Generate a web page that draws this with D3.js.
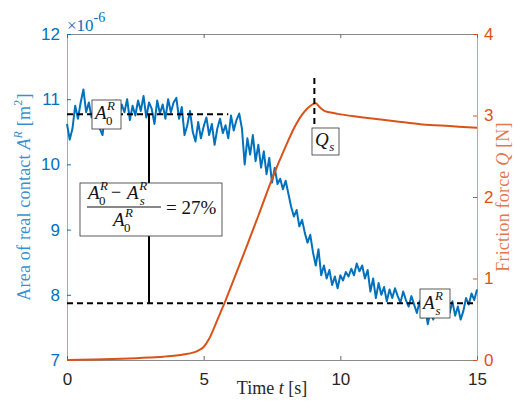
<!DOCTYPE html>
<html>
<head>
<meta charset="utf-8">
<script src="https://cdn.jsdelivr.net/npm/d3@7"></script>
<style>
  body { margin: 0; background: #fff; }
  text { font-family: "Liberation Serif", serif; }
  .tick text { font-family: "Liberation Sans", Arial, sans-serif; font-size: 17px; }
</style>
</head>
<body>
<svg id="chart" width="514" height="403"></svg>
<script>
// real contact area A^R (x1e-6 m^2), one sample every 0.1 s starting at t = 0
const areaStep = 0.1;
const areaValues = [
  10.62, 10.38, 10.55, 10.90, 10.70, 10.95, 11.15, 10.80, 10.95, 10.72, 10.88,
  10.78, 10.55, 10.45, 10.82, 10.95, 10.60, 10.85, 10.98, 10.70, 10.92,
  10.80, 11.00, 10.68, 10.90, 10.75, 10.98, 10.82, 11.05, 10.72, 10.95,
  10.85, 10.62, 10.98, 10.78, 10.92, 10.70, 11.00, 10.80, 10.95, 11.02,
  10.70, 10.88, 10.45, 10.60, 10.82, 10.50, 10.35, 10.65, 10.40, 10.58,
  10.72, 10.45, 10.62, 10.30, 10.55, 10.70, 10.48, 10.60, 10.40, 10.75,
  10.52, 10.68, 10.78, 10.55, 10.00, 10.40, 10.15, 10.45, 10.05, 10.30,
  9.95, 10.20, 9.85, 10.10, 9.72, 9.95, 9.70, 9.78, 9.62, 9.75,
  9.55, 9.35, 9.20, 9.30, 9.05, 9.15, 8.95, 8.80, 8.92, 8.65,
  8.45, 8.70, 8.30, 8.45, 8.25, 8.38, 8.15, 8.28, 8.10, 8.30,
  8.22, 8.35, 8.28, 8.40, 8.30, 8.48, 8.36, 8.45, 8.25, 8.38,
  8.05, 8.25, 7.95, 8.18, 8.00, 8.12, 7.90, 8.08, 7.95, 8.10,
  7.98, 7.88, 8.05, 7.92, 7.82, 7.98, 7.85, 7.72, 7.90, 7.65,
  7.80, 7.55, 7.75, 7.62, 7.85, 7.70, 7.95, 7.78, 7.88, 7.72,
  7.90, 7.68, 7.82, 7.62, 7.75, 7.95, 7.85, 8.02, 7.92, 8.08
];

// friction force Q (N)
const forceTimes  = [0, 1, 2, 3, 3.5, 4, 4.3, 4.6, 4.8, 5.0, 5.2, 5.4, 5.6, 5.8, 6.0, 6.5, 7.0, 7.5, 8.0, 8.3, 8.6, 8.8, 9.0, 9.1, 9.25, 9.4, 9.6, 9.9, 10.5, 11, 12, 13, 14, 15];
const forceValues = [0, 0.005, 0.015, 0.03, 0.04, 0.055, 0.07, 0.09, 0.115, 0.16, 0.26, 0.41, 0.57, 0.73, 0.90, 1.33, 1.77, 2.22, 2.62, 2.84, 3.01, 3.09, 3.14, 3.15, 3.10, 3.06, 3.04, 3.02, 2.99, 2.97, 2.93, 2.89, 2.87, 2.85];

const timeTicks = [0, 5, 10, 15];
const areaTicks = [7, 8, 9, 10, 11, 12];
const forceTicks = [0, 1, 2, 3, 4];

// annotation values
const areaStart = 10.77, areaSteady = 7.87;
const startLineEnd = 5.9;      // where the A0 dashed line stops (s)
const ratioTime = 3.0;         // vertical bar between the two levels (s)
const peakTime = 9.05;
const peakMark = [3.46, 2.86]; // Q range of the dashed mark above Qs

const blue = "#0072BD", orange = "#D95319", dark = "#262626";

const svg = d3.select("#chart");
const xScale = d3.scaleLinear().domain([0, 15]).range([67, 477]);
const yArea = d3.scaleLinear().domain([7, 12]).range([360, 34]);
const yForce = d3.scaleLinear().domain([0, 4]).range([360, 34]);
const fmt = d3.format("d");

// axes, ticks point inwards like matlab
svg.append("g")
  .attr("transform", "translate(0,360)")
  .call(d3.axisBottom(xScale).tickValues(timeTicks).tickFormat(fmt).tickSize(-4).tickSizeOuter(0).tickPadding(13))
  .call(g => g.select(".domain").attr("stroke", "#8a8a8a"))
  .call(g => g.selectAll(".tick line").attr("stroke", "#666"))
  .call(g => g.selectAll(".tick text").attr("fill", dark));

svg.append("g")
  .attr("transform", "translate(0,34)")
  .call(d3.axisTop(xScale).tickValues(timeTicks).tickSize(-4).tickSizeOuter(0).tickFormat(""))
  .call(g => g.select(".domain").attr("stroke", "#8a8a8a"))
  .call(g => g.selectAll(".tick line").attr("stroke", "#666"));

svg.append("g")
  .attr("transform", "translate(67,0)")
  .call(d3.axisLeft(yArea).tickValues(areaTicks).tickFormat(fmt).tickSize(-4).tickSizeOuter(0).tickPadding(7))
  .call(g => g.select(".domain").attr("stroke", blue).attr("stroke-opacity", 0.5))
  .call(g => g.selectAll(".tick line").attr("stroke", blue))
  .call(g => g.selectAll(".tick text").attr("fill", blue));

svg.append("g")
  .attr("transform", "translate(477,0)")
  .call(d3.axisRight(yForce).tickValues(forceTicks).tickFormat(fmt).tickSize(-4).tickSizeOuter(0).tickPadding(7))
  .call(g => g.select(".domain").attr("stroke", orange).attr("stroke-opacity", 0.6))
  .call(g => g.selectAll(".tick line").attr("stroke", orange))
  .call(g => g.selectAll(".tick text").attr("fill", orange));

// exponent label
const expo = svg.append("text").attr("x", 67).attr("y", 31)
  .attr("fill", blue).attr("font-family", "Liberation Sans, Arial, sans-serif").attr("font-size", 17);
expo.append("tspan").text("\u00d710");
expo.append("tspan").attr("dy", -9).attr("font-size", 14).text("-6");

// axis titles
const xl = svg.append("text").attr("x", 272).attr("y", 394).attr("text-anchor", "middle")
  .attr("font-size", 18).attr("fill", dark);
xl.append("tspan").text("Time ");
xl.append("tspan").attr("font-style", "italic").text("t");
xl.append("tspan").text(" [s]");

const yl = svg.append("text").attr("transform", "translate(30,197) rotate(-90)")
  .attr("text-anchor", "middle").attr("font-size", 18).attr("letter-spacing", 0.2)
  .attr("fill", blue).attr("fill-opacity", 0.8);
yl.append("tspan").text("Area of real contact ");
yl.append("tspan").attr("font-style", "italic").text("A");
yl.append("tspan").attr("font-style", "italic").attr("font-size", 12).attr("dy", -8).text("R");
yl.append("tspan").attr("dy", 8).text(" [m");
yl.append("tspan").attr("font-size", 12).attr("dy", -8).text("2");
yl.append("tspan").attr("dy", 8).text("]");

const yr = svg.append("text").attr("transform", "translate(509,197) rotate(-90)")
  .attr("text-anchor", "middle").attr("font-size", 18).attr("letter-spacing", 0.2)
  .attr("fill", orange).attr("fill-opacity", 0.8);
yr.append("tspan").text("Friction force ");
yr.append("tspan").attr("font-style", "italic").text("Q");
yr.append("tspan").text(" [N]");

// data lines
const areaLine = d3.line()
  .x((d, i) => xScale(i * areaStep))
  .y(d => yArea(d));

svg.append("path")
  .datum(areaValues)
  .attr("fill", "none")
  .attr("stroke", blue)
  .attr("stroke-width", 2)
  .attr("stroke-linejoin", "round")
  .attr("d", areaLine);

const forceLine = d3.line()
  .x((d, i) => xScale(forceTimes[i]))
  .y(d => yForce(d))
  .curve(d3.curveMonotoneX);

svg.append("path")
  .datum(forceValues)
  .attr("fill", "none")
  .attr("stroke", orange)
  .attr("stroke-width", 2)
  .attr("d", forceLine);

// reference lines
function dashed(x1, y1, x2, y2) {
  svg.append("line")
    .attr("x1", x1).attr("y1", y1).attr("x2", x2).attr("y2", y2)
    .attr("stroke", "#000").attr("stroke-width", 2).attr("stroke-dasharray", "6,4");
}
dashed(xScale(0), yArea(areaStart), xScale(startLineEnd), yArea(areaStart));
dashed(xScale(0), yArea(areaSteady), xScale(15), yArea(areaSteady));
dashed(xScale(peakTime), yForce(peakMark[0]), xScale(peakTime), yForce(peakMark[1]));

svg.append("line")
  .attr("x1", xScale(ratioTime)).attr("x2", xScale(ratioTime))
  .attr("y1", yArea(areaStart)).attr("y2", yArea(areaSteady))
  .attr("stroke", "#000").attr("stroke-width", 2);

// text boxes
function box(x, y, w, h) {
  const g = svg.append("g");
  g.append("rect").attr("x", x).attr("y", y).attr("width", w).attr("height", h)
    .attr("fill", "#fff").attr("stroke", "#333").attr("stroke-width", 0.8);
  return g;
}

// italic symbol with stacked super/subscript in one text element, returns its right edge
function symbol(g, x, y, base, sup, sub, fs) {
  const t = g.append("text").attr("x", x).attr("y", y)
    .attr("font-size", fs).attr("fill", "#111");
  t.append("tspan").attr("font-style", "italic").text(base);
  const small = fs * 0.68;
  let supW = 0;
  if (sup) {
    const s = t.append("tspan").attr("dx", 0.5).attr("dy", -fs * 0.48)
      .attr("font-style", "italic").attr("font-size", small).text(sup);
    supW = s.node().getComputedTextLength() + 0.5;
  }
  if (sub) {
    t.append("tspan").attr("dx", sup ? -supW + (sub === "s" ? 1 : -0.5) : 0.5)
      .attr("dy", sup ? fs * 0.78 : fs * 0.25)
      .attr("font-style", sub === "s" ? "italic" : "normal")
      .attr("font-size", small).text(sub);
  }
  const b = t.node().getBBox();
  return b.x + b.width;
}

let g = box(92, 100, 29, 29);
symbol(g, 95, 119, "A", "R", "0", 19);

g = box(80, 183, 142, 53);
let r = symbol(g, 88, 199, "A", "R", "0", 19);
g.append("text").attr("x", r + 3).attr("y", 198).attr("font-size", 18).attr("fill", "#111").text("\u2212");
symbol(g, r + 19, 199, "A", "R", "s", 19);
g.append("line").attr("x1", 87).attr("x2", 161).attr("y1", 207).attr("y2", 207)
  .attr("stroke", "#111").attr("stroke-width", 1);
symbol(g, 113, 226, "A", "R", "0", 19);
g.append("text").attr("x", 166).attr("y", 214).attr("font-size", 19).attr("fill", "#111").text("= 27%");

g = box(312, 128, 27, 27);
symbol(g, 315, 146, "Q", null, "s", 19);

g = box(420, 289, 30, 29);
symbol(g, 423, 309, "A", "R", "s", 19);
</script>
</body>
</html>
